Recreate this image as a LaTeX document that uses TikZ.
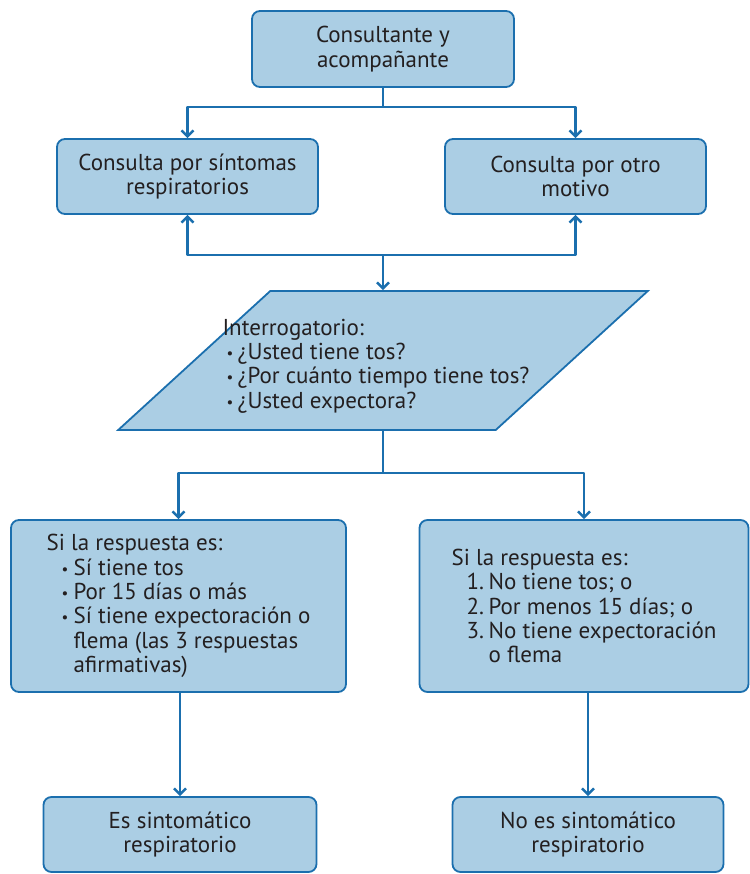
\documentclass[tikz,border=0pt]{standalone}
\usepackage{fontspec}
\setmainfont{PT Sans}
\usetikzlibrary{positioning,arrows.meta,shapes.geometric}

\definecolor{boxfill}{RGB}{171,206,228}
\definecolor{boxline}{RGB}{27,111,174}
\definecolor{ink}{RGB}{35,31,32}

% list lines inside the boxes
\newcommand{\dotmark}{\raisebox{1pt}{\fontsize{15}{15}\selectfont•}}
\newcommand{\bul}[1]{\hspace*{15pt}\makebox[12pt][l]{\dotmark}#1}
\newcommand{\bulcont}[1]{\hspace*{27pt}#1}
\newcommand{\numit}[2]{\hspace*{15pt}\makebox[22pt][l]{#1}#2}
\newcommand{\numcont}[1]{\hspace*{37pt}#1}

\begin{document}
\begin{tikzpicture}[
        x=1pt, y=-1pt,
        box/.style={
            rectangle,
            draw=boxline,
            fill=boxfill,
            line width=1.8pt,
            rounded corners=8pt,
            align=center,
            text=ink,
            font=\fontsize{23}{24.3}\selectfont
        },
        arrow/.style={
            -{Straight Barb[length=6pt,width=12pt,line width=2.4pt]},
            draw=boxline,
            line width=2.6pt,
            line join=round
        },
        link/.style={
            draw=boxline,
            line width=2.6pt
        }
    ]
    \useasboundingbox (0,0) rectangle (749,874);

    % Start
    \node[box, minimum width=262pt, minimum height=76pt] (top) at (383,49) {Consultante y\\acompañante};

    % Reason for the visit
    \node[box, minimum width=261pt, minimum height=75pt] (sint) at (187.5,176.5) {Consulta por síntomas\\respiratorios};
    \node[box, minimum width=261pt, minimum height=75pt] (otro) at (575.5,176.5) {Consulta por otro\\motivo};

    % Questions
    \node[trapezium, trapezium left angle=56, trapezium right angle=124,
          trapezium stretches=true, draw=boxline, fill=boxfill, line width=1.8pt,
          minimum width=530pt, minimum height=139pt] (para) at (383,360.5) {};
    \node[align=left, text=ink, font=\fontsize{23}{24.3}\selectfont] (preg) at (376,366)
        {Interrogatorio:\\
         \hspace*{4pt}\makebox[11pt][l]{\dotmark}¿Usted tiene tos?\\
         \hspace*{4pt}\makebox[11pt][l]{\dotmark}¿Por cuánto tiempo tiene tos?\\
         \hspace*{4pt}\makebox[11pt][l]{\dotmark}¿Usted expectora?};

    % Answers
    \node[box, align=left, minimum width=335pt, minimum height=172pt] (si) at (178.5,606)
        {Si la respuesta es:\\
         \bul{Sí tiene tos}\\
         \bul{Por 15 días o más}\\
         \bul{Sí tiene expectoración o}\\
         \bulcont{flema (las 3 respuestas}\\
         \bulcont{afirmativas)}};
    \node[box, align=left, minimum width=329pt, minimum height=172pt] (no) at (584,606)
        {Si la respuesta es:\\
         \numit{1.}{No tiene tos; o}\\
         \numit{2.}{Por menos 15 días; o}\\
         \numit{3.}{No tiene expectoración}\\
         \numcont{o flema}};

    % Result
    \node[box, minimum width=273pt, minimum height=75pt] (es) at (180,834.5) {Es sintomático\\respiratorio};
    \node[box, minimum width=271pt, minimum height=75pt] (noes) at (588,834.5) {No es sintomático\\respiratorio};

    % Connections
    \coordinate (split1) at (383,107);
    \draw[link] (top) -- (split1);
    \draw[arrow] (split1) -| (sint);
    \draw[arrow] (split1) -| (otro);

    \coordinate (join) at (383,255);
    \draw[arrow] (join) -| (sint);
    \draw[arrow] (join) -| (otro);
    \draw[arrow] (join) -- (join |- para.north);

    \coordinate (split2) at (383,473);
    \draw[link] (split2 |- para.south) -- (split2);
    \draw[arrow] (split2) -| (si);
    \draw[arrow] (split2) -| (no);

    \draw[arrow] (es.north |- si.south) -- (es.north);
    \draw[arrow] (noes.north |- no.south) -- (noes.north);

\end{tikzpicture}
\end{document}
